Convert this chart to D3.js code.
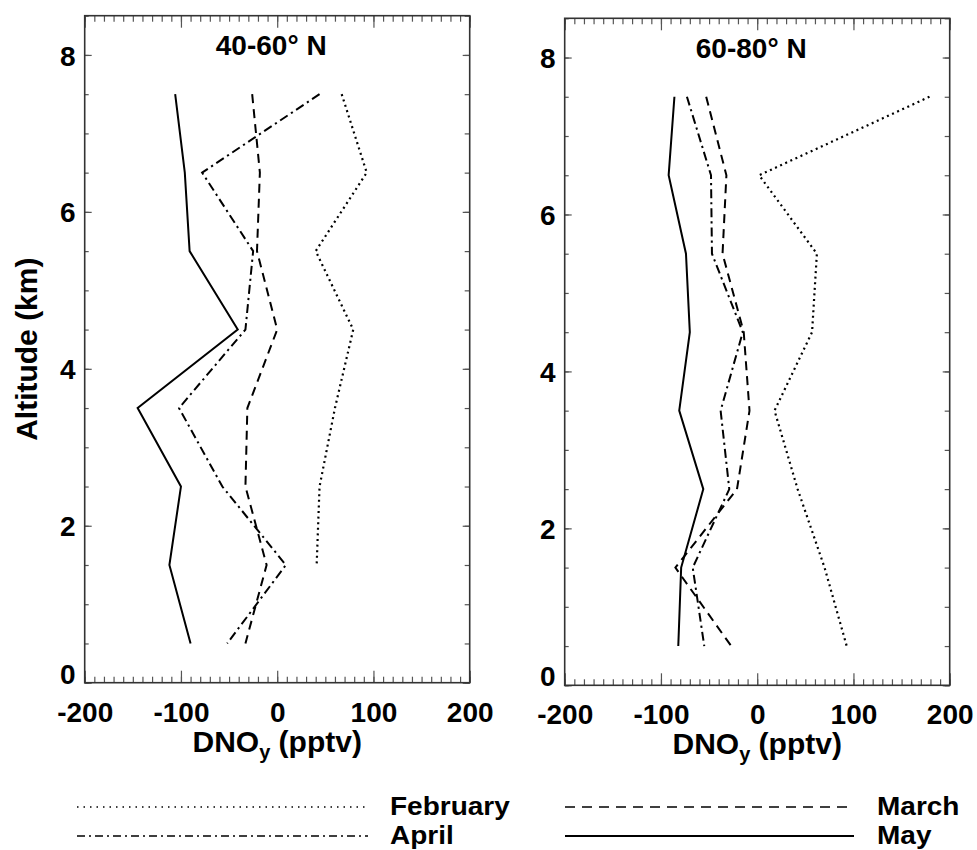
<!DOCTYPE html>
<html>
<head>
<meta charset="utf-8">
<script src="https://cdn.jsdelivr.net/npm/d3@7"></script>
<style>
  html, body { margin: 0; padding: 0; background: #fff; }
  svg { display: block; }
  text { font-family: "Liberation Sans", Arial, Helvetica, sans-serif; font-weight: bold; fill: #000; }
</style>
</head>
<body>
<svg id="chart" width="977" height="850"></svg>
<script>
// ---------------- DATA ----------------
const altitudes = [7.5, 6.5, 5.5, 4.5, 3.5, 2.5, 1.5, 0.5];
const seriesNames = ["February", "March", "April", "May"];
const panelTitles = ["40-60° N", "60-80° N"];

// 40-60° N (values in pptv, top to bottom altitude)
const feb4060 = [67, 93, 40, 79, 60, 44, 41, null];
const mar4060 = [-26, -18, -21, 0, -31, -33, -11, -33];
const apr4060 = [44, -78, -25, -33, -102, -57, 9, -52];
const may4060 = [-106, -96, -91, -41, -145, -100, -112, -90];

// 60-80° N
const feb6080 = [179, 2, 62, 57, 18, 42, 70, 93];
const mar6080 = [-53, -32, -36, -14, -8, -21, -85, -27];
const apr6080 = [-73, -48, -47, -15, -38, -29, -67, -55];
const may6080 = [-86, -92, -74, -70, -81, -56, -79, -82];

const xTicks = [-200, -100, 0, 100, 200];
const yTicks = [0, 2, 4, 6, 8];

// ---------------- LAYOUT ----------------
const svg = d3.select("#chart");
const W = 385, H = 667;
const panels = [
  { x0: 84.7, y0: 15.7, title: panelTitles[0], data: [feb4060, mar4060, apr4060, may4060], ylabel: true },
  { x0: 564.7, y0: 18.3, title: panelTitles[1], data: [feb6080, mar6080, apr6080, may6080], ylabel: false }
];
const styles = {
  February: { dash: "2,3.6", width: 2.2 },
  March:    { dash: "9,6", width: 2 },
  April:    { dash: "9,4,2.2,4", width: 2 },
  May:      { dash: null, width: 2 }
};
const fmt = d => String(d).replace("\u2212", "-");

const x = d3.scaleLinear().domain([-200, 200]).range([0, W]);
const y = d3.scaleLinear().domain([0, 8.5]).range([H, 0]);

panels.forEach(p => {
  const g = svg.append("g").attr("transform", `translate(${p.x0},${p.y0})`);

  const tickStyle = sel => { sel.select(".domain").remove(); sel.selectAll("line").attr("stroke", "#555").attr("stroke-width", 1.2); };
  // bottom (ticks pointing up)
  g.append("g").attr("transform", `translate(0,${H})`)
    .call(d3.axisBottom(x).tickValues(d3.range(-200, 201, 10)).tickSize(-6).tickFormat(""))
    .call(tickStyle);
  g.append("g").attr("transform", `translate(0,${H})`)
    .call(d3.axisBottom(x).tickValues(xTicks).tickSize(-12).tickFormat(fmt))
    .call(tickStyle)
    .call(s => s.selectAll("text").attr("y", 39).attr("dy", 0).attr("font-size", 28).attr("font-family", null));
  // top
  g.append("g")
    .call(d3.axisTop(x).tickValues(d3.range(-200, 201, 10)).tickSize(-6).tickFormat(""))
    .call(tickStyle);
  g.append("g")
    .call(d3.axisTop(x).tickValues(xTicks).tickSize(-12).tickFormat(""))
    .call(tickStyle);
  // left
  g.append("g")
    .call(d3.axisLeft(y).tickValues(d3.range(0, 8.51, 0.5)).tickSize(-4).tickFormat(""))
    .call(tickStyle);
  g.append("g")
    .call(d3.axisLeft(y).tickValues(yTicks).tickSize(-7).tickFormat(d3.format("d")))
    .call(tickStyle)
    .call(s => s.selectAll("text").attr("x", -9).attr("font-size", 28).attr("font-family", null)
      .attr("dy", d => d === 0 ? "0.02em" : "0.36em"));
  // right
  g.append("g").attr("transform", `translate(${W},0)`)
    .call(d3.axisRight(y).tickValues(d3.range(0, 8.51, 0.5)).tickSize(-5).tickFormat(""))
    .call(tickStyle);
  g.append("g").attr("transform", `translate(${W},0)`)
    .call(d3.axisRight(y).tickValues(yTicks).tickSize(-7).tickFormat(""))
    .call(tickStyle);

  // frame
  g.append("rect").attr("width", W).attr("height", H)
    .attr("fill", "none").attr("stroke", "#333").attr("stroke-width", 1.6);

  // title
  g.append("text").attr("x", x(0) - 6).attr("y", 39.5).attr("text-anchor", "middle")
    .attr("font-size", 28).text(p.title);

  // x label
  const xl = g.append("text").attr("x", x(0)).attr("y", H + 69).attr("text-anchor", "middle").attr("font-size", 30);
  xl.append("tspan").text("DNO");
  xl.append("tspan").attr("font-size", 20).attr("dy", 7).text("y");
  xl.append("tspan").attr("dy", -7).text(" (pptv)");

  if (p.ylabel) {
    g.append("text").attr("transform", `translate(${37 - p.x0},${H / 2}) rotate(-90)`)
      .attr("text-anchor", "middle").attr("font-size", 30).text("Altitude (km)");
  }

  // series lines
  const line = d3.line().defined(d => d[0] !== null).x(d => x(d[0])).y(d => y(d[1]));
  p.data.forEach((vals, i) => {
    const st = styles[seriesNames[i]];
    const pts = vals.map((v, k) => [v, altitudes[k]]);
    g.append("path").attr("d", line(pts)).attr("fill", "none").attr("stroke", "#000")
      .attr("stroke-width", st.width).attr("stroke-linecap", "butt").attr("stroke-linejoin", "miter")
      .attr("stroke-dasharray", st.dash);
  });
});

// ---------------- LEGEND ----------------
const legendItems = [
  { name: "February", x1: 77, x2: 368, tx: 390, ly: 807, ty: 815 },
  { name: "March", x1: 565, x2: 854, tx: 877, ly: 807, ty: 815 },
  { name: "April", x1: 77, x2: 368, tx: 390, ly: 836, ty: 844 },
  { name: "May", x1: 565, x2: 854, tx: 877, ly: 836, ty: 844 }
];
const legendDash = { February: "1.5,5", March: "10,7", April: "8,4,2,4", May: null };
const lg = svg.append("g");
legendItems.forEach(d => {
  lg.append("line").attr("x1", d.x1).attr("x2", d.x2).attr("y1", d.ly).attr("y2", d.ly)
    .attr("stroke", "#000").attr("stroke-width", d.name === "May" ? 2.2 : 1.6)
    .attr("stroke-dasharray", legendDash[d.name]);
  lg.append("text").attr("transform", `translate(${d.tx},${d.ty}) scale(1.12,1)`)
    .attr("font-size", 25).text(d.name);
});
</script>
</body>
</html>
